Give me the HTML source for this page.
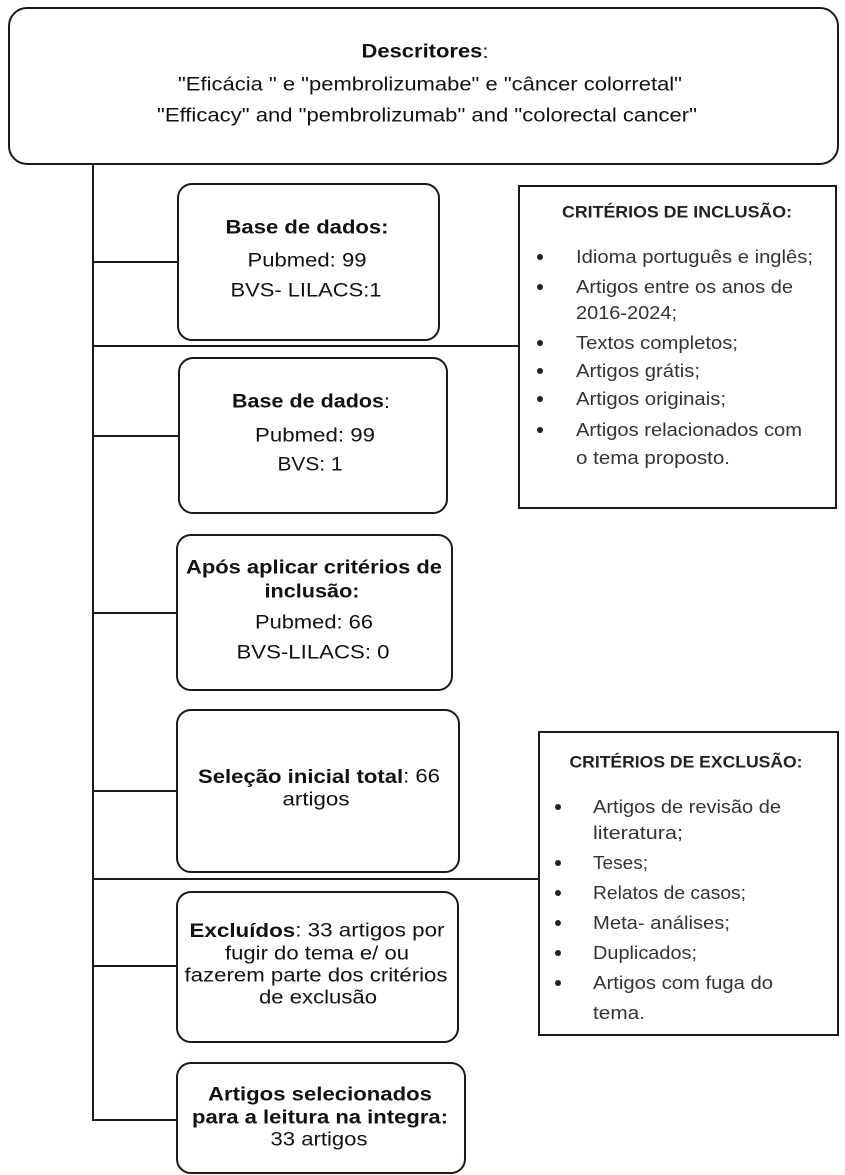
<!DOCTYPE html>
<html><head><meta charset="utf-8"><style>
html,body{margin:0;padding:0;background:#fff;width:845px;height:1175px;overflow:hidden}
svg{display:block}
.b{font-family:"Liberation Sans",Arial,sans-serif;font-size:19px;fill:#111}
.bold{font-weight:bold}
.c{font-family:"Liberation Sans",Arial,sans-serif;font-size:18px;fill:#333}
.ct{font-family:"Liberation Sans",Arial,sans-serif;font-size:17px;font-weight:bold;fill:#222}
</style></head><body>
<svg width="845" height="1175" viewBox="0 0 845 1175" xmlns="http://www.w3.org/2000/svg">
<g fill="none" stroke="#1a1a1a" stroke-width="2">
<rect x="9" y="8" width="829" height="156" rx="18"/>
<line x1="93" y1="164" x2="93" y2="1121"/>
<line x1="93" y1="262" x2="177" y2="262"/>
<line x1="93" y1="346" x2="519" y2="346"/>
<line x1="93" y1="436" x2="179" y2="436"/>
<line x1="93" y1="613" x2="177" y2="613"/>
<line x1="93" y1="791" x2="177" y2="791"/>
<line x1="93" y1="879" x2="539" y2="879"/>
<line x1="93" y1="966" x2="177" y2="966"/>
<line x1="92" y1="1120" x2="177" y2="1120"/>
<rect x="178" y="184" width="261" height="156" rx="14"/>
<rect x="179" y="358" width="268" height="155" rx="14"/>
<rect x="177" y="535" width="275" height="155" rx="14"/>
<rect x="177" y="710" width="282" height="162" rx="14"/>
<rect x="177" y="892" width="281" height="150" rx="14"/>
<rect x="177" y="1063" width="288" height="110" rx="14"/>
<rect x="519" y="186" width="317" height="322"/>
<rect x="539" y="732" width="299" height="303"/>
</g>
<g text-anchor="middle" dominant-baseline="central">
<text class="b bold" x="425" y="52" textLength="127" lengthAdjust="spacingAndGlyphs">Descritores<tspan font-weight="normal">:</tspan></text>
<text class="b" x="430" y="85" textLength="504" lengthAdjust="spacingAndGlyphs">"Eficácia " e "pembrolizumabe" e "câncer colorretal"</text>
<text class="b" x="427" y="116" textLength="540" lengthAdjust="spacingAndGlyphs">"Efficacy" and "pembrolizumab" and "colorectal cancer"</text>

<text class="b bold" x="307" y="228" textLength="163" lengthAdjust="spacingAndGlyphs">Base de dados:</text>
<text class="b" x="307" y="261" textLength="119" lengthAdjust="spacingAndGlyphs">Pubmed: 99</text>
<text class="b" x="306" y="291" textLength="151" lengthAdjust="spacingAndGlyphs">BVS- LILACS:1</text>

<text class="b bold" x="311" y="402" textLength="158" lengthAdjust="spacingAndGlyphs">Base de dados<tspan font-weight="normal">:</tspan></text>
<text class="b" x="315" y="436" textLength="120" lengthAdjust="spacingAndGlyphs">Pubmed: 99</text>
<text class="b" x="310" y="465" textLength="65" lengthAdjust="spacingAndGlyphs">BVS: 1</text>

<text class="b bold" x="314" y="568" textLength="256" lengthAdjust="spacingAndGlyphs">Após aplicar critérios de</text>
<text class="b bold" x="312" y="592" textLength="95" lengthAdjust="spacingAndGlyphs">inclusão:</text>
<text class="b" x="314" y="623" textLength="118" lengthAdjust="spacingAndGlyphs">Pubmed: 66</text>
<text class="b" x="313" y="653" textLength="153" lengthAdjust="spacingAndGlyphs">BVS-LILACS: 0</text>

<text class="b" x="319" y="777" textLength="242" lengthAdjust="spacingAndGlyphs"><tspan font-weight="bold">Seleção inicial total</tspan>: 66</text>
<text class="b" x="316" y="800" textLength="67" lengthAdjust="spacingAndGlyphs">artigos</text>

<text class="b" x="317" y="931" textLength="255" lengthAdjust="spacingAndGlyphs"><tspan font-weight="bold">Excluídos</tspan>: 33 artigos por</text>
<text class="b" x="317" y="954" textLength="184" lengthAdjust="spacingAndGlyphs">fugir do tema e/ ou</text>
<text class="b" x="316" y="976" textLength="263" lengthAdjust="spacingAndGlyphs">fazerem parte dos critérios</text>
<text class="b" x="318" y="998" textLength="118" lengthAdjust="spacingAndGlyphs">de exclusão</text>

<text class="b bold" x="320" y="1095" textLength="224" lengthAdjust="spacingAndGlyphs">Artigos selecionados</text>
<text class="b bold" x="320" y="1118" textLength="256" lengthAdjust="spacingAndGlyphs">para a leitura na integra:</text>
<text class="b" x="319" y="1140" textLength="97" lengthAdjust="spacingAndGlyphs">33 artigos</text>

<text class="ct" x="677" y="212" textLength="230" lengthAdjust="spacingAndGlyphs">CRITÉRIOS DE INCLUSÃO:</text>
<text class="ct" x="686" y="762" textLength="233" lengthAdjust="spacingAndGlyphs">CRITÉRIOS DE EXCLUSÃO:</text>
</g>
<g fill="#222">
<circle cx="540" cy="257" r="3"/><circle cx="540" cy="287" r="3"/><circle cx="540" cy="343" r="3"/>
<circle cx="540" cy="371" r="3"/><circle cx="540" cy="399" r="3"/><circle cx="540" cy="430" r="3"/>
<circle cx="558" cy="807" r="3"/><circle cx="558" cy="863" r="3"/><circle cx="558" cy="893" r="3"/>
<circle cx="558" cy="923" r="3"/><circle cx="558" cy="953" r="3"/><circle cx="558" cy="983" r="3"/>
</g>
<g dominant-baseline="central">
<text class="c" x="576" y="257" textLength="237" lengthAdjust="spacingAndGlyphs">Idioma português e inglês;</text>
<text class="c" x="576" y="287" textLength="217" lengthAdjust="spacingAndGlyphs">Artigos entre os anos de</text>
<text class="c" x="576" y="313" textLength="101" lengthAdjust="spacingAndGlyphs">2016-2024;</text>
<text class="c" x="576" y="343" textLength="162" lengthAdjust="spacingAndGlyphs">Textos completos;</text>
<text class="c" x="576" y="371" textLength="124" lengthAdjust="spacingAndGlyphs">Artigos grátis;</text>
<text class="c" x="576" y="399" textLength="150" lengthAdjust="spacingAndGlyphs">Artigos originais;</text>
<text class="c" x="576" y="430" textLength="226" lengthAdjust="spacingAndGlyphs">Artigos relacionados com</text>
<text class="c" x="576" y="458" textLength="154" lengthAdjust="spacingAndGlyphs">o tema proposto.</text>

<text class="c" x="593" y="807" textLength="188" lengthAdjust="spacingAndGlyphs">Artigos de revisão de</text>
<text class="c" x="593" y="833" textLength="90" lengthAdjust="spacingAndGlyphs">literatura;</text>
<text class="c" x="593" y="863" textLength="55" lengthAdjust="spacingAndGlyphs">Teses;</text>
<text class="c" x="593" y="893" textLength="153" lengthAdjust="spacingAndGlyphs">Relatos de casos;</text>
<text class="c" x="593" y="923" textLength="137" lengthAdjust="spacingAndGlyphs">Meta- análises;</text>
<text class="c" x="593" y="953" textLength="104" lengthAdjust="spacingAndGlyphs">Duplicados;</text>
<text class="c" x="593" y="983" textLength="180" lengthAdjust="spacingAndGlyphs">Artigos com fuga do</text>
<text class="c" x="593" y="1013" textLength="52" lengthAdjust="spacingAndGlyphs">tema.</text>
</g>
</svg>
</body></html>
